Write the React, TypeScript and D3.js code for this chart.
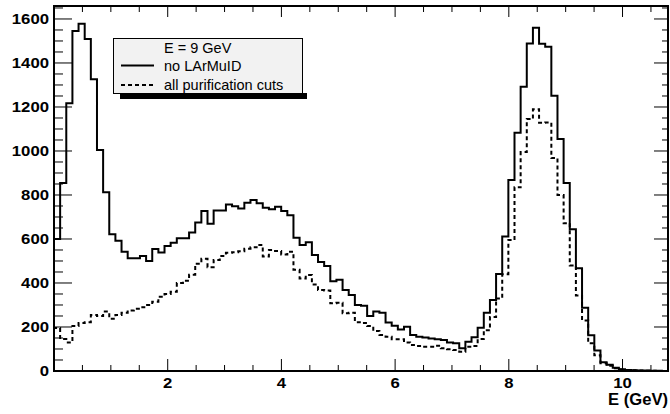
import React from "react";
import * as d3 from "d3";

// Histogram: 100 bins from 0 to 10.8 GeV
const xMin = 0;
const xMax = 10.8;
const nBins = 100;

const noLArMuID: number[] = [
  600, 855, 1217, 1545, 1578, 1509, 1326, 1005, 812, 621,
  592, 542, 512, 512, 523, 500, 555, 539, 568, 583,
  603, 603, 629, 675, 727, 669, 729, 729, 757, 749,
  739, 765, 777, 763, 742, 735, 747, 727, 708, 606,
  573, 585, 527, 495, 477, 408, 415, 368, 345, 300,
  297, 250, 270, 265, 220, 206, 189, 201, 164, 156,
  152, 148, 144, 141, 129, 126, 103, 133, 153, 197,
  265, 323, 441, 611, 868, 1083, 1292, 1489, 1560, 1487,
  1474, 1251, 1055, 855, 644, 467, 287, 163, 93, 40,
  28, 15, 8, 5, 3, 2, 2, 1, 1, 0,
];

const allCuts: number[] = [
  195, 145, 130, 205, 218, 222, 255, 250, 270, 238,
  255, 265, 275, 283, 290, 300, 315, 338, 350, 360,
  400, 410, 438, 488, 510, 472, 505, 523, 537, 540,
  544, 556, 562, 573, 520, 550, 545, 530, 542, 460,
  421, 436, 393, 368, 366, 308, 310, 262, 265, 222,
  218, 204, 182, 164, 156, 144, 144, 130, 118, 114,
  110, 110, 115, 103, 99, 95, 88, 110, 114, 145,
  185, 245, 330, 440, 595, 835, 995, 1145, 1190, 1128,
  1130, 968, 800, 672, 480, 343, 230, 126, 72, 35,
  24, 13, 7, 4, 3, 2, 1, 1, 0, 0,
];

const xTickLabels = [2, 4, 6, 8, 10];
const yTickLabels = [0, 200, 400, 600, 800, 1000, 1200, 1400, 1600];
const legendTitle = "E = 9 GeV";
const legendLabels = ["no LArMuID", "all purification cuts"];
const xTitle = "E (GeV)";

const W = 670;
const H = 414;
const L = 54;
const R = 668;
const T = 6;
const B = 371;
const yMax = 1659;

export default function App() {
  const x = d3.scaleLinear().domain([xMin, xMax]).range([L, R]);
  const y = d3.scaleLinear().domain([0, yMax]).range([B, T]);
  const bw = (xMax - xMin) / nBins;

  const histPath = (vals: number[]) => {
    const pts: [number, number][] = [[xMin, 0]];
    vals.forEach((v, i) => pts.push([xMin + i * bw, v]));
    pts.push([xMin + nBins * bw, vals[vals.length - 1]]);
    const line = d3
      .line<[number, number]>()
      .x((d) => x(d[0]))
      .y((d) => y(d[1]))
      .curve(d3.curveStepAfter);
    return line(pts) || "";
  };

  const xMinor = d3.range(0.5, xMax, 0.5);
  const yMinor = d3.range(50, yMax, 50);

  const font = "'Liberation Sans', Arial, Helvetica, sans-serif";

  return (
    <svg width={W} height={H} style={{ position: "absolute", left: 0, top: 0 }}>
      <rect x={0} y={0} width={W} height={H} fill="#ffffff" />
      <defs>
        <clipPath id="frameClip">
          <rect x={L} y={T} width={R - L} height={B - T} />
        </clipPath>
      </defs>

      {/* histograms */}
      <g clipPath="url(#frameClip)">
        <path d={histPath(allCuts)} fill="none" stroke="#000" strokeWidth={2} strokeDasharray="4 3" />
        <path d={histPath(noLArMuID)} fill="none" stroke="#000" strokeWidth={2} />
      </g>

      {/* ticks bottom/top */}
      {xMinor.map((t) => {
        const major = Math.abs(t / 2 - Math.round(t / 2)) < 1e-6;
        const xx = x(t);
        return (
          <g key={"xt" + t}>
            <line x1={xx} x2={xx} y1={B} y2={B - (major ? 12 : 6)} stroke="#000" strokeWidth={1} />
            <line x1={xx} x2={xx} y1={T} y2={T + (major ? 11 : 6)} stroke="#000" strokeWidth={1} />
          </g>
        );
      })}
      {/* ticks left/right */}
      {yMinor.map((t) => {
        const major = t % 200 === 0;
        const yy = y(t);
        return (
          <g key={"yt" + t}>
            <line x1={L} x2={L + (major ? 18 : 9)} y1={yy} y2={yy} stroke="#000" strokeWidth={1} />
            <line x1={R} x2={R - (major ? 14 : 6)} y1={yy} y2={yy} stroke="#000" strokeWidth={1} />
          </g>
        );
      })}

      {/* frame */}
      <rect x={L} y={T} width={R - L} height={B - T} fill="none" stroke="#000" strokeWidth={2} />

      {/* y labels */}
      {yTickLabels.map((v) => (
        <text
          key={"yl" + v}
          x={49}
          y={y(v) + 5}
          textAnchor="end"
          fontFamily={font}
          fontWeight="bold"
          fontSize={14}
          textLength={String(v).length * 9.3}
          lengthAdjust="spacingAndGlyphs"
        >
          {v}
        </text>
      ))}
      {/* x labels */}
      {xTickLabels.map((v) => (
        <text
          key={"xl" + v}
          x={x(v)}
          y={388}
          textAnchor="middle"
          fontFamily={font}
          fontWeight="bold"
          fontSize={14}
          textLength={String(v).length * 9.3}
          lengthAdjust="spacingAndGlyphs"
        >
          {v}
        </text>
      ))}
      <text
        x={668}
        y={405}
        textAnchor="end"
        fontFamily={font}
        fontWeight="bold"
        fontSize={16}
        textLength={60}
        lengthAdjust="spacingAndGlyphs"
      >
        {xTitle}
      </text>

      {/* legend */}
      <rect x={120} y={93} width={187} height={6} fill="#000" />
      <rect x={113.5} y={38.5} width={189} height={55} fill="#f2f2f2" stroke="#000" strokeWidth={1} />
      <text x={164} y={52.5} fontFamily={font} fontSize={14.5}>
        {legendTitle}
      </text>
      <line x1={121} x2={154} y1={65.5} y2={65.5} stroke="#000" strokeWidth={2} />
      <text x={164} y={71} fontFamily={font} fontSize={14.5}>
        {legendLabels[0]}
      </text>
      <line x1={121} x2={154} y1={85} y2={85} stroke="#000" strokeWidth={2} strokeDasharray="4 3" />
      <text x={164} y={90} fontFamily={font} fontSize={14.5}>
        {legendLabels[1]}
      </text>
    </svg>
  );
}
